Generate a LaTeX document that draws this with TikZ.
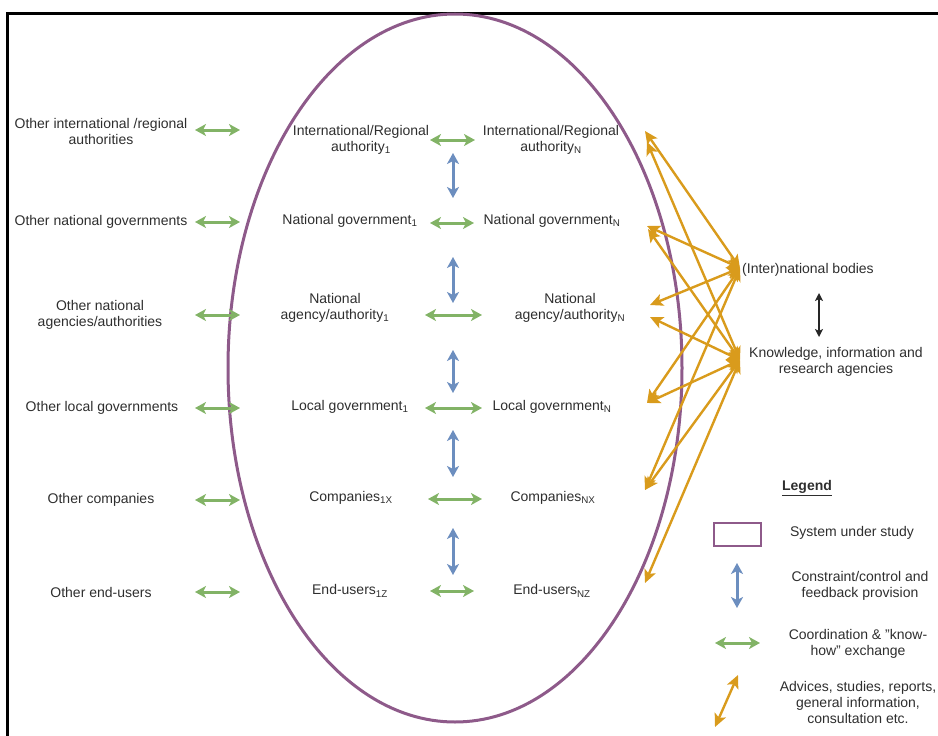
\documentclass[tikz,border=0pt]{standalone}
\usepackage{fontspec}
\setmainfont{Liberation Sans}
\usetikzlibrary{arrows.meta}
\definecolor{grn}{HTML}{82B366}
\definecolor{blu}{HTML}{6C8EBF}
\definecolor{org}{HTML}{D99B1C}
\definecolor{pur}{HTML}{8E5A8A}
\tikzset{
  lbl/.style={align=center, font=\fontsize{14}{16}\selectfont, text=black!82, inner sep=1pt},
  gtip/.style={Stealth[length=11pt,width=12pt,inset=3pt]},
  garrow/.style={draw=grn, line width=3pt, {Stealth[length=11pt,width=12pt,inset=3pt]}-{Stealth[length=11pt,width=12pt,inset=3pt]}},
  barrow/.style={draw=blu, line width=3pt, {Stealth[length=11pt,width=12pt,inset=3pt]}-{Stealth[length=11pt,width=12pt,inset=3pt]}},
  oarrow/.style={draw=org, line width=2.4pt, {Stealth[length=13pt,width=12pt,inset=3pt]}-{Stealth[length=13pt,width=12pt,inset=3pt]}},
  karrow/.style={draw=black!85, line width=1.5pt, {Stealth[length=8pt,width=8pt,inset=2pt]}-{Stealth[length=8pt,width=8pt,inset=2pt]}},
}
\begin{document}
\begin{tikzpicture}[x=1pt,y=-1pt]
\useasboundingbox (0,0) rectangle (938,736);
% frame
\draw[line width=3pt] (7,740) -- (7,13) -- (942,13);
% system ellipse
\draw[pur, line width=3pt] (455,368) ellipse [x radius=227pt, y radius=354pt];

% outer left nodes
\node[lbl] (o1) at (101,131) {Other international /regional\\authorities};
\node[lbl] (o2) at (101,222) {Other national governments};
\node[lbl] (o3) at (100,315) {Other national\\agencies/authorities};
\node[lbl] (o4) at (102,408) {Other local governments};
\node[lbl] (o5) at (101,500) {Other companies};
\node[lbl] (o6) at (101,592) {Other end-users};

% inner left
\node[lbl] (a1) at (361,140) {International/Regional\\authority\textsubscript{1}};
\node[lbl] (a2) at (350,221) {National government\textsubscript{1}};
\node[lbl] (a3) at (335,308) {National\\agency/authority\textsubscript{1}};
\node[lbl] (a4) at (350,407) {Local government\textsubscript{1}};
\node[lbl] (a5) at (351,498) {Companies\textsubscript{1X}};
\node[lbl] (a6) at (350,591) {End-users\textsubscript{1Z}};

% inner right
\node[lbl] (b1) at (551,140) {International/Regional\\authority\textsubscript{N}};
\node[lbl] (b2) at (552,221) {National government\textsubscript{N}};
\node[lbl] (b3) at (570,308) {National\\agency/authority\textsubscript{N}};
\node[lbl] (b4) at (552,407) {Local government\textsubscript{N}};
\node[lbl] (b5) at (553,498) {Companies\textsubscript{NX}};
\node[lbl] (b6) at (552,591) {End-users\textsubscript{NZ}};

% right nodes
\node[lbl] (ib) at (808,270) {(Inter)national bodies};
\node[lbl] (kn) at (836,362) {Knowledge, information and\\research agencies};

% outer green arrows
\foreach \i/\y in {1/130,2/222,3/315,4/408,5/500,6/592}{
  \coordinate (ol\i) at (195,\y);
  \coordinate (or\i) at (240,\y);
  \draw[garrow] (ol\i) -- (or\i);
}
% inner green arrows
\foreach \i/\xa/\xb/\y in {1/430/475/140,2/430/474/223,3/425/482/315,4/425/482/408,5/428/482/499,6/430/474/591}{
  \coordinate (gl\i) at (\xa,\y);
  \coordinate (gr\i) at (\xb,\y);
  \draw[garrow] (gl\i) -- (gr\i);
}
% blue vertical arrows
\foreach \i/\ya/\yb in {1/153/198,2/257/303,3/350/393,4/430/477,5/528/575}{
  \coordinate (bt\i) at (453,\ya);
  \coordinate (bb\i) at (453,\yb);
  \draw[barrow] (bt\i) -- (bb\i);
}
% black arrow
\coordinate (kt) at (819,293);
\coordinate (kb) at (819,337);
\draw[karrow] (kt) -- (kb);

% orange arrows
\coordinate (si) at (740,268);
\coordinate (sk) at (740,360);
\coordinate (t1i) at (645,131);
\coordinate (t1k) at (647,142);
\coordinate (t2i) at (647,226);
\coordinate (t2k) at (648,229);
\coordinate (t3i) at (650,305);
\coordinate (t3k) at (650,317);
\coordinate (t4) at (647,403);
\coordinate (t5) at (645,490);
\coordinate (t6) at (645,583);
\draw[oarrow] (si) -- (t1i);
\draw[oarrow] (si) -- (t2i);
\draw[oarrow] (si) -- (t3i);
\draw[oarrow] (si) -- (t4);
\draw[oarrow] (si) -- (t5);
\draw[oarrow] (sk) -- (t1k);
\draw[oarrow] (sk) -- (t2k);
\draw[oarrow] (sk) -- (t3k);
\draw[oarrow] (sk) -- (t4);
\draw[oarrow] (sk) -- (t5);
\draw[oarrow] (sk) -- (t6);

% legend
\node[lbl, font=\bfseries\fontsize{14}{16}\selectfont] (lg) at (807,488) {\underline{Legend}};
\node[draw=pur, line width=2.5pt, minimum width=47pt, minimum height=23pt, inner sep=0pt] (lsys) at (737.5,534.5) {};
\node[lbl] (lsyst) at (852,533) {System under study};
\coordinate (lbt) at (737,563);
\coordinate (lbb) at (737,608);
\draw[barrow] (lbt) -- (lbb);
\node[lbl] (lbtx) at (860,586) {Constraint/control and\\feedback provision};
\coordinate (lgl) at (715,643);
\coordinate (lgr) at (760,643);
\draw[garrow] (lgl) -- (lgr);
\node[lbl] (lgtx) at (858,644) {Coordination \& "know-\\how" exchange};
\coordinate (lot) at (738,675);
\coordinate (lob) at (715,727);
\draw[oarrow] (lot) -- (lob);
\node[lbl] (lotx) at (858,702) {Advices, studies, reports,\\general information,\\consultation etc.};
\end{tikzpicture}
\end{document}
